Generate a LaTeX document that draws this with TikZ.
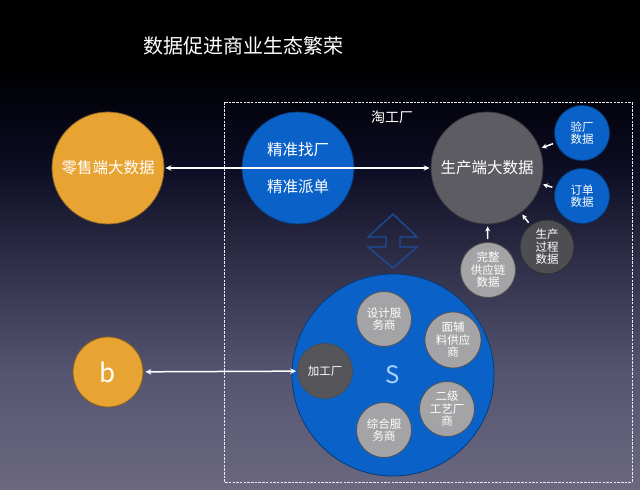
\documentclass[tikz,border=0pt]{standalone}
\usepackage{fontspec}
\setmainfont{Noto Sans CJK SC}
\usetikzlibrary{arrows.meta}
\definecolor{cOrange}{HTML}{E8A432}
\definecolor{cBlue}{HTML}{0A62C8}
\definecolor{cGray}{HTML}{5C5C62}
\definecolor{cDark}{HTML}{4E4E52}
\definecolor{cLight}{HTML}{A4A4A6}
\definecolor{cMill}{HTML}{56565A}
\definecolor{cS}{HTML}{A8D0FF}
\definecolor{bgA}{HTML}{000000}
\definecolor{bgB}{HTML}{040410}
\definecolor{bgC}{HTML}{0D0D25}
\definecolor{bgD}{HTML}{2E2E48}
\definecolor{bgE}{HTML}{555470}
\definecolor{bgF}{HTML}{6B6880}
\definecolor{cHollow}{HTML}{1E4C9C}
\begin{document}
\begin{tikzpicture}[x=1pt,y=-1pt,
  bubble/.style={circle, inner sep=0pt, text=white, align=center},
  orangeb/.style={bubble, fill=cOrange, draw=cOrange!60!black, line width=0.8pt},
  blueb/.style={bubble, fill=cBlue, draw=cBlue!60!black, line width=0.8pt},
  grayb/.style={bubble, fill=cGray, draw=cGray!60!black, line width=0.8pt},
  darkb/.style={bubble, fill=cDark, draw=cDark!60!black, line width=0.8pt},
  lightb/.style={bubble, fill=cLight, draw=cLight!50!black, line width=0.8pt},
  millb/.style={bubble, fill=cMill, draw=black!70, line width=0.8pt},
  big/.style={font=\fontsize{15.5}{18}\selectfont},
  small/.style={font=\fontsize{11.5}{12.5}\selectfont},
  twoway/.style={draw=white, line width=1.5pt, {Stealth[length=6pt,width=5.5pt]}-{Stealth[length=6pt,width=5.5pt]}},
  oneway/.style={draw=white, line width=1.5pt, -{Stealth[length=5pt,width=5pt]}, shorten >=2pt, shorten <=3pt}
]
\useasboundingbox (0,0) rectangle (640,490);
% background
\fill[bgA] (0,0) rectangle (640,60.5);
\shade[top color=bgA, bottom color=bgB] (0,60) rectangle (640,110.5);
\shade[top color=bgB, bottom color=bgC] (0,110) rectangle (640,170.5);
\shade[top color=bgC, bottom color=bgD] (0,170) rectangle (640,260.5);
\shade[top color=bgD, bottom color=bgE] (0,260) rectangle (640,370.5);
\shade[top color=bgE, bottom color=bgF] (0,370) rectangle (640,490);

% title
\node[text=white, font=\fontsize{20}{24}\selectfont] (title) at (243,46) {数据促进商业生态繁荣};

% dashed frame
\draw[white!85!gray, line width=0.7pt, dash pattern=on 2.5pt off 1.2pt] (224,102) rectangle (632,482);
\node[text=white, font=\fontsize{14}{16}\selectfont] (tao) at (392,117) {淘工厂};

% top row
\node[orangeb, big, minimum size=112pt] (retail) at (108,168) {零售端大数据};
\node[blueb, font=\fontsize{15.5}{37}\selectfont, minimum size=112pt] (find) at (298,168) {精准找厂\\精准派单};
\node[grayb, big, minimum size=112pt] (prod) at (487,168) {生产端大数据};

\node[blueb, small, minimum size=55pt] (yan) at (582,133) {验厂\\数据};
\node[blueb, small, minimum size=55pt] (order) at (582,196) {订单\\数据};
\node[darkb, small, minimum size=54pt] (proc) at (547,247) {生产\\过程\\数据};
\node[lightb, small, minimum size=55pt] (chain) at (488,270) {完整\\供应链\\数据};

\draw[oneway] (yan) -- (prod);
\draw[oneway] (order) -- (prod);
\draw[oneway] (proc) -- (prod);
\draw[oneway] (chain) -- (prod);

% hollow double arrow
\draw[cHollow, line width=1.3pt, line join=miter]
  (393,214) -- (417,237) -- (400,237) -- (400,247) -- (417,247) -- (393,268)
  -- (368,247) -- (386,247) -- (386,237) -- (368,237) -- cycle;

% S circle
\node[blueb, minimum size=202pt, text=cS, font=\fontsize{24}{28}\selectfont] (S) at (393,375) {S};
\node[lightb, small, minimum size=55pt] (design) at (384,319) {设计服\\务商};
\node[lightb, small, minimum size=56pt] (fabric) at (453,340) {面辅\\料供应\\商};
\node[millb, small, minimum size=55pt] (mill) at (325,371) {加工厂};
\node[lightb, small, minimum size=55pt] (craft) at (447,409) {二级\\工艺厂\\商};
\node[lightb, small, minimum size=55pt] (service) at (384,430) {综合服\\务商};

% b
\node[orangeb, minimum size=70pt, font=\fontsize{26}{30}\selectfont] (b) at (108,372) {b};

% main arrows
\draw[twoway, shorten <=1pt, shorten >=1pt] (retail) -- (prod);
\draw[twoway, shorten <=2pt, shorten >=1pt] (b) -- (mill);
\end{tikzpicture}
\end{document}
